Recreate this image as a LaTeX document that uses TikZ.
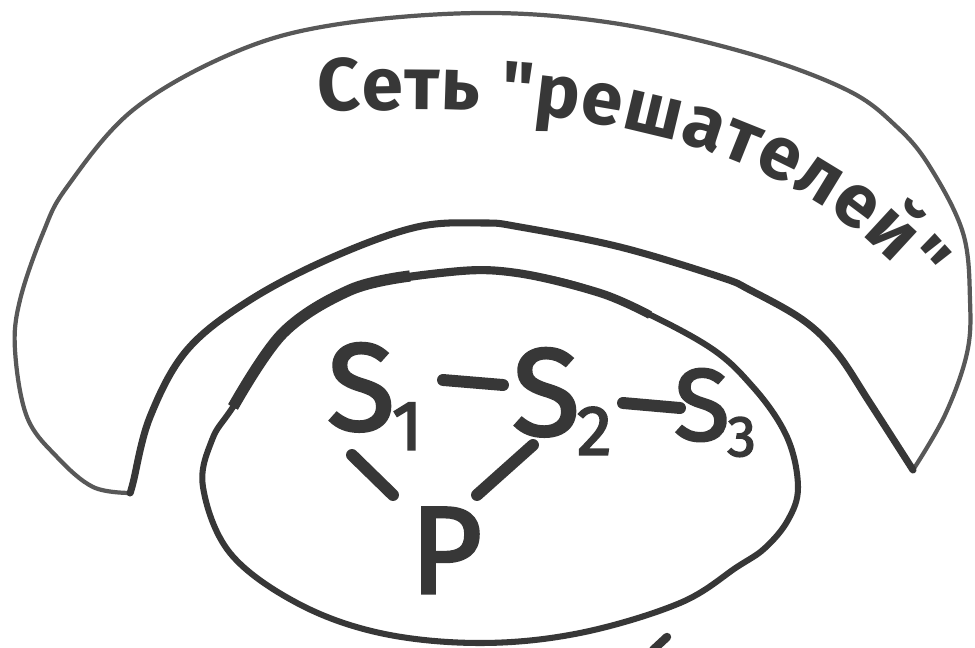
\documentclass[tikz,border=0pt]{standalone}
\usepackage{fontspec}
\setmainfont{Fira Sans}
\newfontface\hwface{Fira Sans}[FakeBold=2.5]
\newfontfamily\titlefam{Fira Sans}[Ligatures=TeXOff]
\usetikzlibrary{decorations.text,calc}
\definecolor{ink}{RGB}{55,55,55}
\definecolor{inkgrey}{RGB}{88,88,88}
\newcommand\hwsub[1]{\kern-2pt\raisebox{-14pt}{\fontsize{50}{50}\selectfont #1}}
\newcommand\titlefont{\titlefam\bfseries\fontsize{53}{53}\selectfont}
\begin{document}
\begin{tikzpicture}[x=0.025cm,y=-0.025cm,
  outerline/.style={draw=inkgrey,line width=3pt,line join=round,line cap=round},
  innerline/.style={draw=ink,line width=5pt,line join=round,line cap=round},
  ovalline/.style={draw=ink,line width=4.3pt,line cap=round},
  ovalthick/.style={draw=ink,line cap=butt},
  letter/.style={font=\hwface\fontsize{88}{88}\selectfont,text=ink,inner sep=0pt,anchor=base west},
  link/.style={draw=ink,line width=8.5pt,line cap=round}]
\useasboundingbox (0,0) rectangle (975,648);
\fill[white] (0,0) rectangle (975,648);
% crescent "network of solvers"
\draw[outerline] plot[smooth,tension=0.6] coordinates {(130,493) (93,487) (57,457) (27,417) (15,350) (20,300) (43,233) (67,187) (133,110) (233,53) (333,25) (480,13) (613,23) (747,53) (847,90) (897,127) (930,167) (963,233) (970,300) (967,353) (945,415) (913,470)};
\draw[innerline] plot[smooth,tension=0.6] coordinates {(913,470) (870,403) (837,353) (803,320) (750,290) (720,277) (620,247) (520,227) (483,223) (417,227) (333,257) (250,300) (187,350) (150,417) (133,483) (130,493)};
% title along the arc
\path[decorate,decoration={text along path,text color=ink,
  text={|\titlefont|Сеть "решателей"},text align={fit to path}}]
  (318,112) .. controls (560,100) and (780,128) .. (916,290);
% oval
\draw[ovalline] plot[smooth cycle,tension=0.6] coordinates {(233,407) (283,333) (350,290) (450,272) (517,273) (600,293) (703,343) (753,387) (787,437) (798,487) (788,520) (765,548) (737,567) (680,603) (580,633) (480,643) (380,633) (297,603) (230,553) (203,487) (212,440)};
\draw[ovalthick,line width=5.8pt] plot[smooth,tension=0.6] coordinates {(233,407) (283,333) (350,290) (450,272) (517,273) (600,293) (650,315)};
\draw[ovalthick,line width=8pt] plot[smooth,tension=0.6] coordinates {(233,407) (283,333) (350,290) (410,276)};
% nodes
\node[letter] (s1) at (327,430) {S\hwsub{1}};
\node[letter] (s2) at (512,435) {S\hwsub{2}};
\node[letter,scale=0.82] (s3) at (674,440) {S\hwsub{3}};
\node[letter] (p) at (410,593) {P};
% connectors
\draw[link] ($(s1.base west)+(116,-50)$) -- ($(s2.base west)+(-9,-50)$);
\draw[link] ($(s2.base west)+(111,-32)$) -- ($(s3.base west)+(6,-32)$);
\draw[link] ($(s1.base west)+(25,25)$) -- ($(p.base west)+(-17,-98)$);
\draw[link] ($(s2.base west)+(21,10)$) -- ($(p.base west)+(67,-98)$);
% stray stroke at the bottom edge
\coordinate (m1) at (653,650);
\coordinate (m2) at (667,637);
\draw[link,line width=6pt] (m1) -- (m2);
\end{tikzpicture}
\end{document}
